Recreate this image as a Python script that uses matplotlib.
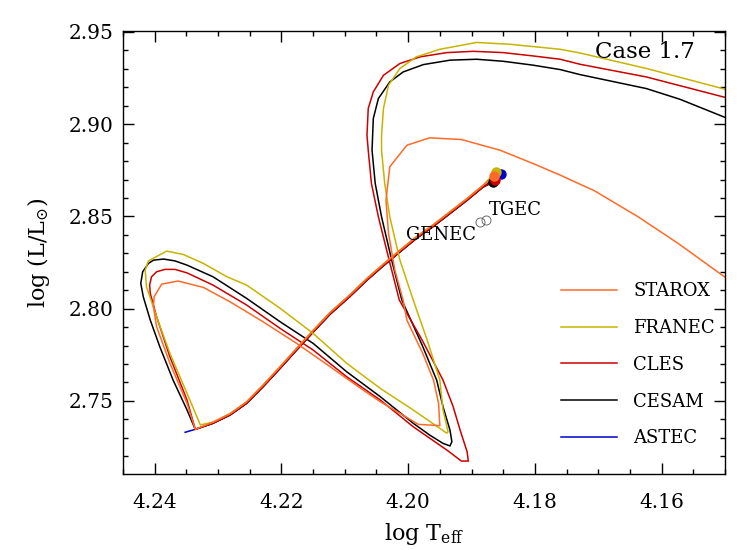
import matplotlib
matplotlib.use("Agg")
import matplotlib.pyplot as plt
from matplotlib.ticker import MultipleLocator, FormatStrFormatter

plt.rcParams['font.family'] = ['DejaVu Serif']
plt.rcParams['mathtext.fontset'] = 'dejavuserif'

# shared part of the tracks: from the dots down to the lower-left corner
ms_logt = [4.1882, 4.1907, 4.1934, 4.1960, 4.1987, 4.2013, 4.2039, 4.2065, 4.2092,
           4.2123, 4.2150, 4.2176, 4.2202, 4.2229, 4.2255, 4.2281, 4.2308]
ms_logl = [2.8659, 2.8588, 2.8516, 2.8447, 2.8381, 2.8308, 2.8233, 2.8155, 2.8066,
           2.7971, 2.7873, 2.7776, 2.7677, 2.7577, 2.7487, 2.7424, 2.7379]
# FRANEC / STAROX run a hair above the others on this stretch
ms_logl_up = [2.8668, 2.8597, 2.8525, 2.8456, 2.8390, 2.8317, 2.8242, 2.8164, 2.8075,
              2.7980, 2.7882, 2.7785, 2.7686, 2.7586, 2.7495, 2.7431, 2.7385]

# starting dots
zams = {
    "STAROX": (4.1864, 2.8718),
    "FRANEC": (4.1862, 2.8742),
    "CLES": (4.1863, 2.8697),
    "CESAM": (4.1866, 2.8684),
    "ASTEC": (4.1854, 2.8729),
}

# rest of each track (loop, blue loop, return to the right)
starox_t = [4.2336, 4.2349, 4.2376, 4.2397, 4.2402, 4.2401, 4.2389, 4.2363, 4.2323, 4.2281,
            4.2229, 4.2176, 4.2123, 4.2071, 4.2044, 4.2013, 4.1984, 4.1950, 4.1952, 4.1960,
            4.1977, 4.2002, 4.2008, 4.2021, 4.2031, 4.2035, 4.2029, 4.2002, 4.1966, 4.1916,
            4.1855, 4.1803, 4.1760, 4.1706, 4.1637, 4.1574, 4.1500]
starox_l = [2.7346, 2.7487, 2.7704, 2.7902, 2.8010, 2.8064, 2.8133, 2.8150, 2.8115, 2.8037,
            2.7929, 2.7812, 2.7685, 2.7559, 2.7496, 2.7433, 2.7373, 2.7366, 2.7487, 2.7613,
            2.7758, 2.7938, 2.8047, 2.8209, 2.8408, 2.8588, 2.8769, 2.8886, 2.8926, 2.8917,
            2.8859, 2.8787, 2.8724, 2.8639, 2.8498, 2.8354, 2.8171]

franec_t = [4.2328, 4.2349, 4.2376, 4.2397, 4.2413, 4.2415, 4.2410, 4.2381, 4.2355, 4.2323,
            4.2286, 4.2255, 4.2202, 4.2150, 4.2097, 4.2044, 4.1992, 4.1939, 4.1937, 4.1945,
            4.1950, 4.1970, 4.1992, 4.2013, 4.2029, 4.2037, 4.2042, 4.2042, 4.2039, 4.2031,
            4.2013, 4.1987, 4.1950, 4.1892, 4.1839, 4.1760, 4.1729, 4.1624, 4.1495]
franec_l = [2.7370, 2.7541, 2.7758, 2.7956, 2.8119, 2.8209, 2.8259, 2.8312, 2.8294, 2.8245,
            2.8173, 2.8128, 2.8002, 2.7866, 2.7704, 2.7568, 2.7451, 2.7325, 2.7333, 2.7451,
            2.7613, 2.7830, 2.8047, 2.8263, 2.8498, 2.8679, 2.8859, 2.8940, 2.9085, 2.9211,
            2.9302, 2.9365, 2.9406, 2.9443, 2.9433, 2.9406, 2.9386, 2.9302, 2.9185]

cles_t = [4.2336, 4.2349, 4.2376, 4.2397, 4.2407, 4.2408, 4.2405, 4.2397, 4.2384, 4.2368,
          4.2349, 4.2308, 4.2255, 4.2202, 4.2150, 4.2097, 4.2044, 4.1992, 4.1939, 4.1916,
          4.1905, 4.1907, 4.1918, 4.1929, 4.1945, 4.1978, 4.2014, 4.2030, 4.2047, 4.2058,
          4.2063, 4.2065, 4.2063, 4.2055, 4.2039, 4.2013, 4.1981, 4.1939, 4.1897, 4.1850,
          4.1803, 4.1760, 4.1729, 4.1624, 4.1495]
cles_l = [2.7346, 2.7505, 2.7739, 2.7956, 2.8083, 2.8128, 2.8173, 2.8200, 2.8213, 2.8213,
          2.8194, 2.8128, 2.8020, 2.7893, 2.7776, 2.7631, 2.7505, 2.7360, 2.7234, 2.7174,
          2.7174, 2.7225, 2.7342, 2.7469, 2.7613, 2.7830, 2.8047, 2.8263, 2.8498, 2.8679,
          2.8859, 2.8940, 2.9085, 2.9175, 2.9265, 2.9329, 2.9365, 2.9388, 2.9395, 2.9388,
          2.9370, 2.9352, 2.9325, 2.9256, 2.9141]

cesam_t = [4.2336, 4.2349, 4.2371, 4.2392, 4.2407, 4.2418, 4.2422, 4.2419, 4.2410, 4.2402,
           4.2386, 4.2368, 4.2349, 4.2308, 4.2255, 4.2202, 4.2150, 4.2097, 4.2044, 4.1992,
           4.1966, 4.1945, 4.1934, 4.1931, 4.1934, 4.1945, 4.1955, 4.1978, 4.2010, 4.2026,
           4.2042, 4.2052, 4.2057, 4.2055, 4.2047, 4.2029, 4.2008, 4.1976, 4.1934, 4.1892,
           4.1850, 4.1803, 4.1760, 4.1729, 4.1624, 4.1571, 4.1495]
cesam_l = [2.7346, 2.7451, 2.7613, 2.7794, 2.7938, 2.8064, 2.8137, 2.8200, 2.8245, 2.8263,
           2.8269, 2.8259, 2.8236, 2.8173, 2.8056, 2.7929, 2.7812, 2.7658, 2.7523, 2.7379,
           2.7315, 2.7270, 2.7256, 2.7279, 2.7342, 2.7469, 2.7613, 2.7803, 2.8047, 2.8263,
           2.8498, 2.8679, 2.8859, 2.9031, 2.9139, 2.9229, 2.9283, 2.9323, 2.9347, 2.9352,
           2.9341, 2.9320, 2.9296, 2.9269, 2.9193, 2.9135, 2.9030]

astec_t = [4.2336, 4.2352]
astec_l = [2.7346, 2.7330]

tails = {
    "STAROX": (starox_t, starox_l),
    "FRANEC": (franec_t, franec_l),
    "CLES": (cles_t, cles_l),
    "CESAM": (cesam_t, cesam_l),
    "ASTEC": (astec_t, astec_l),
}
upper = {"STAROX", "FRANEC"}
colors = {
    "STAROX": "#ff6a28",
    "FRANEC": "#c8b400",
    "CLES": "#cc0000",
    "CESAM": "#000000",
    "ASTEC": "#0000cc",
}
legend_order = ["STAROX", "FRANEC", "CLES", "CESAM", "ASTEC"]
draw_order = ["ASTEC", "CESAM", "CLES", "FRANEC", "STAROX"]

# open circles for the two other codes
others = {"GENEC": (4.1887, 2.8471), "TGEC": (4.1877, 2.8480)}

fig = plt.figure(figsize=(7.47, 5.5), dpi=100)
ax = fig.add_axes([0.1647, 0.1382, 0.8058, 0.8054])

lines = {}
for name in draw_order:
    t0, l0 = zams[name]
    tt, ll = tails[name]
    ms_l = ms_logl_up if name in upper else ms_logl
    lines[name], = ax.plot([t0] + ms_logt + tt, [l0] + ms_l + ll,
                           color=colors[name], lw=1.1, label=name)

for name in draw_order:
    t0, l0 = zams[name]
    ax.plot(t0, l0, 'o', color=colors[name], ms=6.5, mec=colors[name], zorder=5)

for name, (t, l) in others.items():
    ax.plot(t, l, 'o', mfc='none', mec='#555555', mew=0.6, ms=6.5, zorder=5)

ax.text(4.1893, 2.8372, "GENEC", fontsize=13, ha='right', va='baseline')
ax.text(4.1872, 2.8507, "TGEC", fontsize=13, ha='left', va='baseline')
ax.text(0.950, 0.939, "Case 1.7", transform=ax.transAxes, fontsize=16.5,
        ha='right', va='baseline')

ax.legend([lines[n] for n in legend_order], legend_order, loc='upper left',
          bbox_to_anchor=(0.7276, 0.433), frameon=False, fontsize=13,
          handlelength=3.1, handletextpad=0.89, labelspacing=1.04,
          borderpad=0, borderaxespad=0)

ax.set_xlim(4.245, 4.15)
ax.set_ylim(2.7104, 2.9505)
ax.xaxis.set_major_locator(MultipleLocator(0.02))
ax.xaxis.set_minor_locator(MultipleLocator(0.005))
ax.yaxis.set_major_locator(MultipleLocator(0.05))
ax.yaxis.set_minor_locator(MultipleLocator(0.01))
ax.xaxis.set_major_formatter(FormatStrFormatter('%.2f'))
ax.yaxis.set_major_formatter(FormatStrFormatter('%.2f'))
ax.tick_params(which='both', direction='in', top=True, right=True, width=1.0)
ax.tick_params(which='major', length=8, labelsize=14.5)
ax.tick_params(which='minor', length=3.6)
ax.tick_params(axis='x', which='major', pad=14)
ax.tick_params(axis='y', which='major', pad=7)
for s in ax.spines.values():
    s.set_linewidth(1.0)

ax.set_xlabel(r"log T$_{\rm eff}$", fontsize=16, labelpad=6)
ax.set_ylabel(r"log (L/L$_{\odot}$)", fontsize=16, labelpad=12)

fig.savefig("out.png", dpi=100)
